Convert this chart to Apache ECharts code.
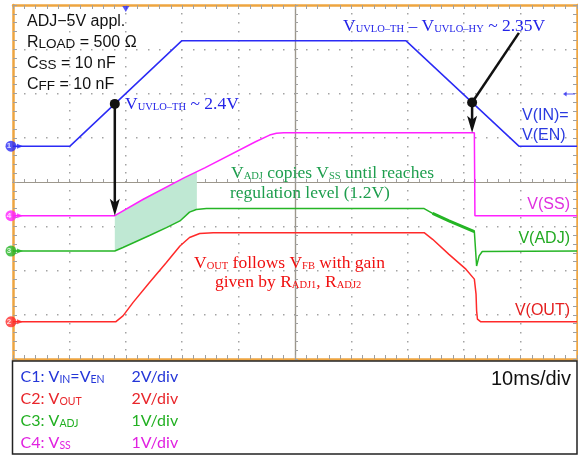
<!DOCTYPE html>
<html><head><meta charset="utf-8">
<script src="https://cdn.jsdelivr.net/npm/echarts@6/dist/echarts.min.js"></script>
<style>html,body{margin:0;padding:0;background:#fff}#c{width:578px;height:456px}</style>
</head><body><div id="c"></div>
<script>
// ---- scope settings ----
const msPerDiv = 10;
const voltsPerDiv = [2, 2, 1, 1];            // C1 VIN/VEN, C2 VOUT, C3 VADJ, C4 VSS
const offsetDiv = [0.81, -3.16, -1.56, -0.76]; // channel ground markers (divisions)
const channelColors = ['#2b2bf5', '#ff2a2a', '#25b525', '#ff22ff'];
const triggerTime = 20;
const triggerLevel = 2.36;

// ---- waveforms: time (ms), volts ----
const vinTime  = [0, 10.1, 29.9, 69.7, 89.7, 100];
const vinVolts = [0, 0, 4.76, 4.76, 0, 0];

const voutTime  = [0, 18.2, 19.5, 21.3, 24.2, 27.2, 29.6, 31.3, 33.1, 35.5, 72.9, 74.4, 77.3, 80.3, 81.8, 82.1, 82.2, 82.35, 82.95, 100];
const voutVolts = [0, 0, 0.27, 0.88, 1.78, 2.68, 3.43, 3.81, 3.99, 4.03, 4.03, 3.73, 3.05, 2.38, 1.93, 1.25, 0.5, 0.12, 0, 0];

const vadjTime  = [0, 18.05, 19.5, 24.2, 27.2, 29.6, 31.3, 32.5, 34.3, 72.9, 74.4, 77.3, 81.8, 82.2, 82.65, 83.2, 100];
const vadjVolts = [0, 0, 0.08, 0.35, 0.53, 0.68, 0.88, 0.94, 0.96, 0.96, 0.85, 0.68, 0.44, -0.34, -0.11, -0.01, 0];

const vssTime  = [0, 18.05, 23.1, 30.4, 34, 43, 45.5, 46.7, 48, 81.8, 81.9, 100];
const vssVolts = [0, 0, 0.37, 0.86, 1.08, 1.67, 1.82, 1.86, 1.875, 1.875, 0, 0];

// ---- annotation points ----
const dotTime = [18.05, 81.4];       // on C1
const dotVolts = [1.91, 1.97];
const arrowTipVolts = [0, 1.875];    // on C4
const leaderStart = [89.7, 5.12];    // C1 volts
const shadeStart = 18.05, shadeEnd = 32.6;

const toDiv = (ch, v) => offsetDiv[ch] + v / voltsPerDiv[ch];
const pts = (ch, ts, vs) => ts.map((t, i) => [t, toDiv(ch, vs[i])]);
function interp(ts, vs, t) {
  for (let i = 1; i < ts.length; i++) {
    if (t <= ts[i]) { const f = (t - ts[i-1]) / (ts[i] - ts[i-1]); return vs[i-1] + f * (vs[i] - vs[i-1]); }
  }
  return vs[vs.length - 1];
}

const orange = '#eea540';
const tickStyle = { color: '#a0a0a0', width: 1 };
const gridDot = '#a3a3a3';
function xAx(pos, extra) {
  return Object.assign({
    type: 'value', min: 0, max: 10 * msPerDiv, interval: msPerDiv, position: pos,
    axisLine: { show: true, onZero: false, lineStyle: { color: orange, width: 2.5 } },
    axisTick: { show: true, inside: true, length: 4, lineStyle: tickStyle },
    minorTick: { show: true, splitNumber: 5, length: 4, lineStyle: tickStyle },
    axisLabel: { show: false }, splitLine: { show: false }
  }, extra);
}
function yAx(pos, extra) {
  return Object.assign({
    type: 'value', min: -4, max: 4, interval: 1, position: pos,
    axisLine: { show: true, onZero: false, lineStyle: { color: orange, width: 2.5 } },
    axisTick: { show: true, inside: true, length: 4, lineStyle: tickStyle },
    minorTick: { show: true, splitNumber: 5, length: 4, lineStyle: tickStyle },
    axisLabel: { show: false }, splitLine: { show: false }
  }, extra);
}
const centerLine = { show: true, onZero: false, lineStyle: { color: '#9c978c', width: 1.2 } };

function lineSeries(ch, ts, vs, width) {
  return { type: 'line', data: pts(ch, ts, vs), showSymbol: false, symbol: 'none',
    lineStyle: { color: channelColors[ch], width: width || 1.5 }, itemStyle: { color: channelColors[ch] },
    z: 5, animation: false };
}

// text helpers
const serif = 'Liberation Serif', sans = 'Liberation Sans';
function rich(family, main, sub, color, mainLH, subLH) {
  return {
    m: { fontFamily: family, fontSize: main, lineHeight: mainLH, fill: color, color: color, verticalAlign: 'bottom' },
    s: { fontFamily: family, fontSize: sub, lineHeight: subLH, fill: color, color: color, verticalAlign: 'bottom' }
  };
}
function txt(x, y, text, r, align) {
  return { type: 'text', x: x, y: y, z: 100,
    style: { text: text, rich: r, align: align || 'left', verticalAlign: 'middle' } };
}
const blueT = '#2424e8', greenT = '#1e9e4e', redT = '#f01010';
const serifB = rich(serif, 17.5, 10.5, blueT, 20, 10);
const serifG = rich(serif, 17.5, 10.5, greenT, 20, 10);
const serifR = rich(serif, 17.5, 10.5, redT, 20, 10);
const blackS = rich(sans, 16, 13.5, '#111', 18, 12);
const lab = (c) => rich(sans, 16, 12, c, 18, 12);

const legendColors = ['#2436d8', '#e8262b', '#22b022', '#e022e0'];
const legendNames = ['{m|C1: V}{s|IN}{m|=V}{s|EN}', '{m|C2: V}{s|OUT}', '{m|C3: V}{s|ADJ}', '{m|C4: V}{s|SS}'];
const legendY = [374.7, 397.3, 419, 440.7];

const graphics = [
  { type: 'rect', z: 90, shape: { x: 12.5, y: 361, width: 564.5, height: 93 }, style: { fill: '#fff', stroke: '#222', lineWidth: 1.5 } },
  txt(27, 21, '{m|ADJ−5V appl.}', blackS),
  txt(27, 42, '{m|R}{s|LOAD}{m| = 500 Ω}', blackS),
  txt(27, 63, '{m|C}{s|SS}{m| = 10 nF}', blackS),
  txt(27, 84, '{m|C}{s|FF}{m| = 10 nF}', blackS),
  txt(125, 103, '{m|V}{s|UVLO–TH}{m| ~ 2.4V}', serifB),
  txt(343, 25, '{m|V}{s|UVLO–TH}{m| – V}{s|UVLO–HY}{m| ~ 2.35V}', serifB),
  txt(231, 172, '{m|V}{s|ADJ}{m| copies V}{s|SS}{m| until reaches}', serifG),
  txt(230, 192, '{m|regulation level (1.2V)}', serifG),
  txt(194, 262, '{m|V}{s|OUT}{m| follows V}{s|FB}{m| with gain}', serifR),
  txt(215, 281, '{m|given by R}{s|ADJ1}{m|, R}{s|ADJ2}', serifR),
  txt(522, 115, '{m|V(IN)=}', lab('#2a3ae0')),
  txt(522, 135, '{m|V(EN)}', lab('#2a3ae0')),
  txt(570, 204, '{m|V(SS)}', lab('#e030e0'), 'right'),
  txt(570, 238, '{m|V(ADJ)}', lab('#22aa22'), 'right'),
  txt(570, 310, '{m|V(OUT)}', lab('#e42020'), 'right'),
  txt(571, 378, '{m|' + msPerDiv + 'ms/div}', rich(sans, 20, 12, '#111', 22, 12), 'right')
];
legendNames.forEach((n, i) => {
  graphics.push(txt(20.5, legendY[i], n, rich('Lato', 16, 10.5, legendColors[i], 20, 16)));
  graphics.push(txt(131.5, legendY[i], '{m|' + voltsPerDiv[i] + 'V/div}', rich('Lato', 16, 10.5, legendColors[i], 20, 16)));
});

const chart = echarts.init(document.getElementById('c'), null, { renderer: 'canvas' });
chart.setOption({
  animation: false,
  backgroundColor: '#fff',
  grid: { left: 13, top: 5, right: 1, bottom: 97, containLabel: false },
  xAxis: [
    xAx('bottom'),
    xAx('top'),
    xAx('bottom', { offset: -177, axisLine: centerLine, axisTick: { show: true, inside: true, length: 3, lineStyle: tickStyle }, minorTick: { show: true, splitNumber: 5, length: 3, lineStyle: tickStyle } }),
    xAx('top', { offset: -177, axisLine: centerLine, axisTick: { show: true, inside: false, length: 3, lineStyle: tickStyle }, minorTick: { show: true, splitNumber: 5, length: 3, lineStyle: tickStyle } })
  ],
  yAxis: [
    yAx('left'),
    yAx('right'),
    yAx('left', { offset: -282, axisLine: centerLine, axisTick: { show: true, inside: true, length: 3, lineStyle: tickStyle }, minorTick: { show: true, splitNumber: 5, length: 3, lineStyle: tickStyle } }),
    yAx('right', { offset: -282, axisLine: centerLine, axisTick: { show: true, inside: false, length: 3, lineStyle: tickStyle }, minorTick: { show: true, splitNumber: 5, length: 3, lineStyle: tickStyle } })
  ],
  series: [
    { // shaded region between VSS and VADJ during tracking
      type: 'custom', z: 3, clip: false, data: [[shadeStart, 0]],
      renderItem: function (params, api) {
        const top = [], bot = [];
        top.push(api.coord([shadeStart, toDiv(3, interp(vssTime, vssVolts, shadeStart))]));
        vssTime.forEach((t, i) => { if (t > shadeStart && t < shadeEnd) top.push(api.coord([t, toDiv(3, vssVolts[i])])); });
        top.push(api.coord([shadeEnd, toDiv(3, interp(vssTime, vssVolts, shadeEnd))]));
        bot.push(api.coord([shadeEnd, toDiv(2, interp(vadjTime, vadjVolts, shadeEnd))]));
        for (let i = vadjTime.length - 1; i >= 0; i--) { const t = vadjTime[i]; if (t > shadeStart && t < shadeEnd) bot.push(api.coord([t, toDiv(2, vadjVolts[i])])); }
        bot.push(api.coord([shadeStart, toDiv(2, interp(vadjTime, vadjVolts, shadeStart))]));
        return { type: 'polygon', shape: { points: top.concat(bot) }, style: { fill: '#bfe8d3' } };
      }
    },
    lineSeries(0, vinTime, vinVolts),
    lineSeries(3, vssTime, vssVolts),
    lineSeries(2, vadjTime, vadjVolts),
    lineSeries(2, vadjTime.slice(10, 13), vadjVolts.slice(10, 13), 3),
    lineSeries(1, voutTime, voutVolts),
    { // channel ground markers
      type: 'scatter', clip: false, z: 8, symbol: 'circle', symbolSize: 11, symbolOffset: [-2, 0],
      data: offsetDiv.map((o, i) => ({ value: [0, o], itemStyle: { color: channelColors[i] }, label: { formatter: String(i + 1) } })),
      label: { show: true, position: 'inside', offset: [-2, 0], color: '#fff', fontSize: 8, fontWeight: 'bold', fontFamily: sans }
    },
    {
      type: 'scatter', clip: false, z: 8, symbol: 'triangle', symbolRotate: -90, symbolSize: [5, 6], symbolOffset: [7, 0],
      data: offsetDiv.map((o, i) => ({ value: [0, o], itemStyle: { color: channelColors[i] } }))
    },
    { // trigger position and level
      type: 'scatter', clip: false, z: 8, symbol: 'triangle', symbolRotate: 180, symbolSize: [7, 6], symbolOffset: [0, 4],
      data: [[triggerTime, 4]], itemStyle: { color: '#2b2bf5' }
    },
    {
      type: 'scatter', clip: false, z: 8, symbol: 'path://M0,5 L6,0 L6,4 L20,4 L20,6 L6,6 L6,10 Z', symbolSize: [12, 5], symbolOffset: [-8, 0],
      data: [[10 * msPerDiv, toDiv(0, triggerLevel)]], itemStyle: { color: '#2b2bf5' }
    },
    { // annotation arrows and dots
      type: 'custom', z: 20, clip: false, data: [[dotTime[0], 0]],
      renderItem: function (params, api) {
        const ch = [];
        const ink = '#111';
        const arrow = (from, tip) => {
          ch.push({ type: 'line', shape: { x1: from[0], y1: from[1], x2: tip[0], y2: tip[1] - 12 }, style: { stroke: ink, lineWidth: 2.5 } });
          ch.push({ type: 'polygon', shape: { points: [[tip[0], tip[1]], [tip[0] - 5, tip[1] - 17], [tip[0], tip[1] - 13], [tip[0] + 5, tip[1] - 17]] }, style: { fill: ink } });
        };
        const d1 = api.coord([dotTime[0], toDiv(0, dotVolts[0])]);
        const d2 = api.coord([dotTime[1], toDiv(0, dotVolts[1])]);
        const t1 = api.coord([dotTime[0], toDiv(3, arrowTipVolts[0])]);
        const t2 = api.coord([dotTime[1], toDiv(3, arrowTipVolts[1])]);
        const ls = api.coord([leaderStart[0], toDiv(0, leaderStart[1])]);
        arrow(d1, t1);
        arrow(d2, t2);
        ch.push({ type: 'line', shape: { x1: ls[0], y1: ls[1], x2: d2[0], y2: d2[1] }, style: { stroke: ink, lineWidth: 2.5 } });
        ch.push({ type: 'circle', shape: { cx: d1[0], cy: d1[1], r: 5 }, style: { fill: ink } });
        ch.push({ type: 'circle', shape: { cx: d2[0], cy: d2[1], r: 5 }, style: { fill: ink } });
        return { type: 'group', children: ch };
      }
    }
  ],
  graphic: graphics
});

// dotted graticule: dots at every minor step along each division line, placed through the axes
const dots = [];
const addDot = (t, d) => {
  const p = chart.convertToPixel({ gridIndex: 0 }, [t, d]);
  dots.push({ type: 'rect', z: 0, silent: true,
    shape: { x: Math.round(p[0] - 0.75), y: Math.round(p[1] - 0.75), width: 1.5, height: 1.5 },
    style: { fill: gridDot } });
};
for (let k = 1; k < 10; k++) {
  if (k === 5) continue;
  for (let m = 1; m < 40; m++) addDot(k * msPerDiv, -4 + m * 0.2);
}
for (let j = -3; j <= 3; j++) {
  if (j === 0) continue;
  for (let m = 1; m < 50; m++) addDot(m * msPerDiv / 5, j);
}
chart.setOption({ graphic: graphics.concat(dots) });
</script>
</body></html>
